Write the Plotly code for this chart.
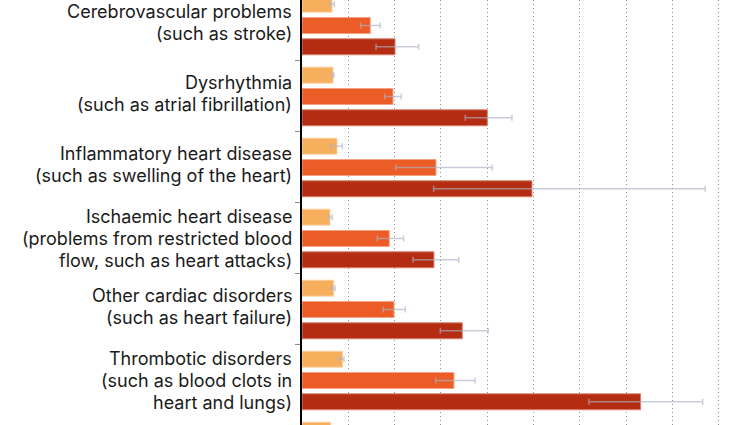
import plotly.graph_objects as go

categories = [
    "Cerebrovascular problems<br>(such as stroke)",
    "Dysrhythmia<br>(such as atrial fibrillation)",
    "Inflammatory heart disease<br>(such as swelling of the heart)",
    "Ischaemic heart disease<br>(problems from restricted blood<br>flow, such as heart attacks)",
    "Other cardiac disorders<br>(such as heart failure)",
    "Thrombotic disorders<br>(such as blood clots in<br>heart and lungs)",
    "Any cardiovascular outcome",
]

series_names = ["Not hospitalized", "Hospitalized", "Admitted to intensive care"]

not_hosp = [3.24, 3.35, 3.78, 3.02, 3.42, 4.39, 3.10]
not_hosp_lo = [3.00, 3.24, 3.10, 2.91, 3.20, 4.03, 2.95]
not_hosp_hi = [3.49, 3.45, 4.35, 3.27, 3.56, 4.53, 3.25]

hosp = [7.37, 9.82, 14.46, 9.42, 9.93, 16.40, 20.0]
hosp_lo = [6.33, 8.92, 10.11, 8.13, 8.77, 14.43, 18.0]
hosp_hi = [8.45, 10.72, 20.54, 10.97, 11.15, 18.67, 22.0]

icu = [10.04, 20.00, 24.82, 14.24, 17.30, 36.55, 40.0]
icu_lo = [7.99, 17.62, 14.21, 11.98, 14.93, 30.97, 35.0]
icu_hi = [12.59, 22.66, 43.52, 16.91, 20.10, 43.24, 45.0]

colors = ["#F8AF5D", "#EC5C26", "#B42D12"]
border = ["#FAD2A6", "#F4A283", "#D8826F"]

fig = go.Figure()
for name, vals, lo, hi, c, bc in zip(
    series_names,
    [not_hosp, hosp, icu],
    [not_hosp_lo, hosp_lo, icu_lo],
    [not_hosp_hi, hosp_hi, icu_hi],
    colors,
    border,
):
    fig.add_trace(
        go.Bar(
            y=categories,
            x=vals,
            name=name,
            orientation="h",
            marker=dict(color=c, line=dict(color=bc, width=1)),
            error_x=dict(
                type="data",
                symmetric=False,
                array=[h - v for h, v in zip(hi, vals)],
                arrayminus=[v - l for v, l in zip(vals, lo)],
                color="rgba(170,178,196,0.65)",
                thickness=1.5,
                width=3,
            ),
        )
    )

# category labels, one text line per annotation (tight line spacing)
line_h = 21.6
for cat in categories:
    lines = cat.split("<br>")
    n = len(lines)
    extra = 3 if n == 2 else 0
    for i, ln in enumerate(lines):
        fig.add_annotation(
            x=0,
            xref="paper",
            y=cat,
            yref="y",
            text=ln,
            showarrow=False,
            xanchor="right",
            yanchor="middle",
            xshift=-8,
            yshift=((n - 1) / 2 - i) * line_h + extra,
            font=dict(family="Inter", size=18, color="#1a1a1a"),
        )

fig.update_layout(
    width=751,
    height=425,
    margin=dict(l=302, r=0, t=0, b=0, autoexpand=False),
    paper_bgcolor="white",
    plot_bgcolor="white",
    barmode="group",
    bargap=0.1,
    bargroupgap=0.25,
    showlegend=False,
    font=dict(family="Inter", size=18, color="#1a1a1a"),
)

fig.update_xaxes(
    range=[0, 48.46],
    dtick=5,
    showgrid=True,
    gridcolor="#8f8f8f",
    griddash="1px,3px",
    gridwidth=1,
    zeroline=False,
    showticklabels=False,
    ticks="",
    automargin=False,
)

fig.update_yaxes(
    type="category",
    categoryorder="array",
    categoryarray=categories,
    range=[5.627, -0.359],
    showline=True,
    linecolor="black",
    linewidth=2.3,
    ticks="outside",
    tickson="boundaries",
    ticklen=5,
    tickcolor="#888888",
    showticklabels=False,
    showgrid=False,
    zeroline=False,
    automargin=False,
)

fig.write_html(
    "out.html",
    config={"displayModeBar": False},
    post_script="document.body.style.margin='0px';document.body.style.overflow='hidden';",
)
